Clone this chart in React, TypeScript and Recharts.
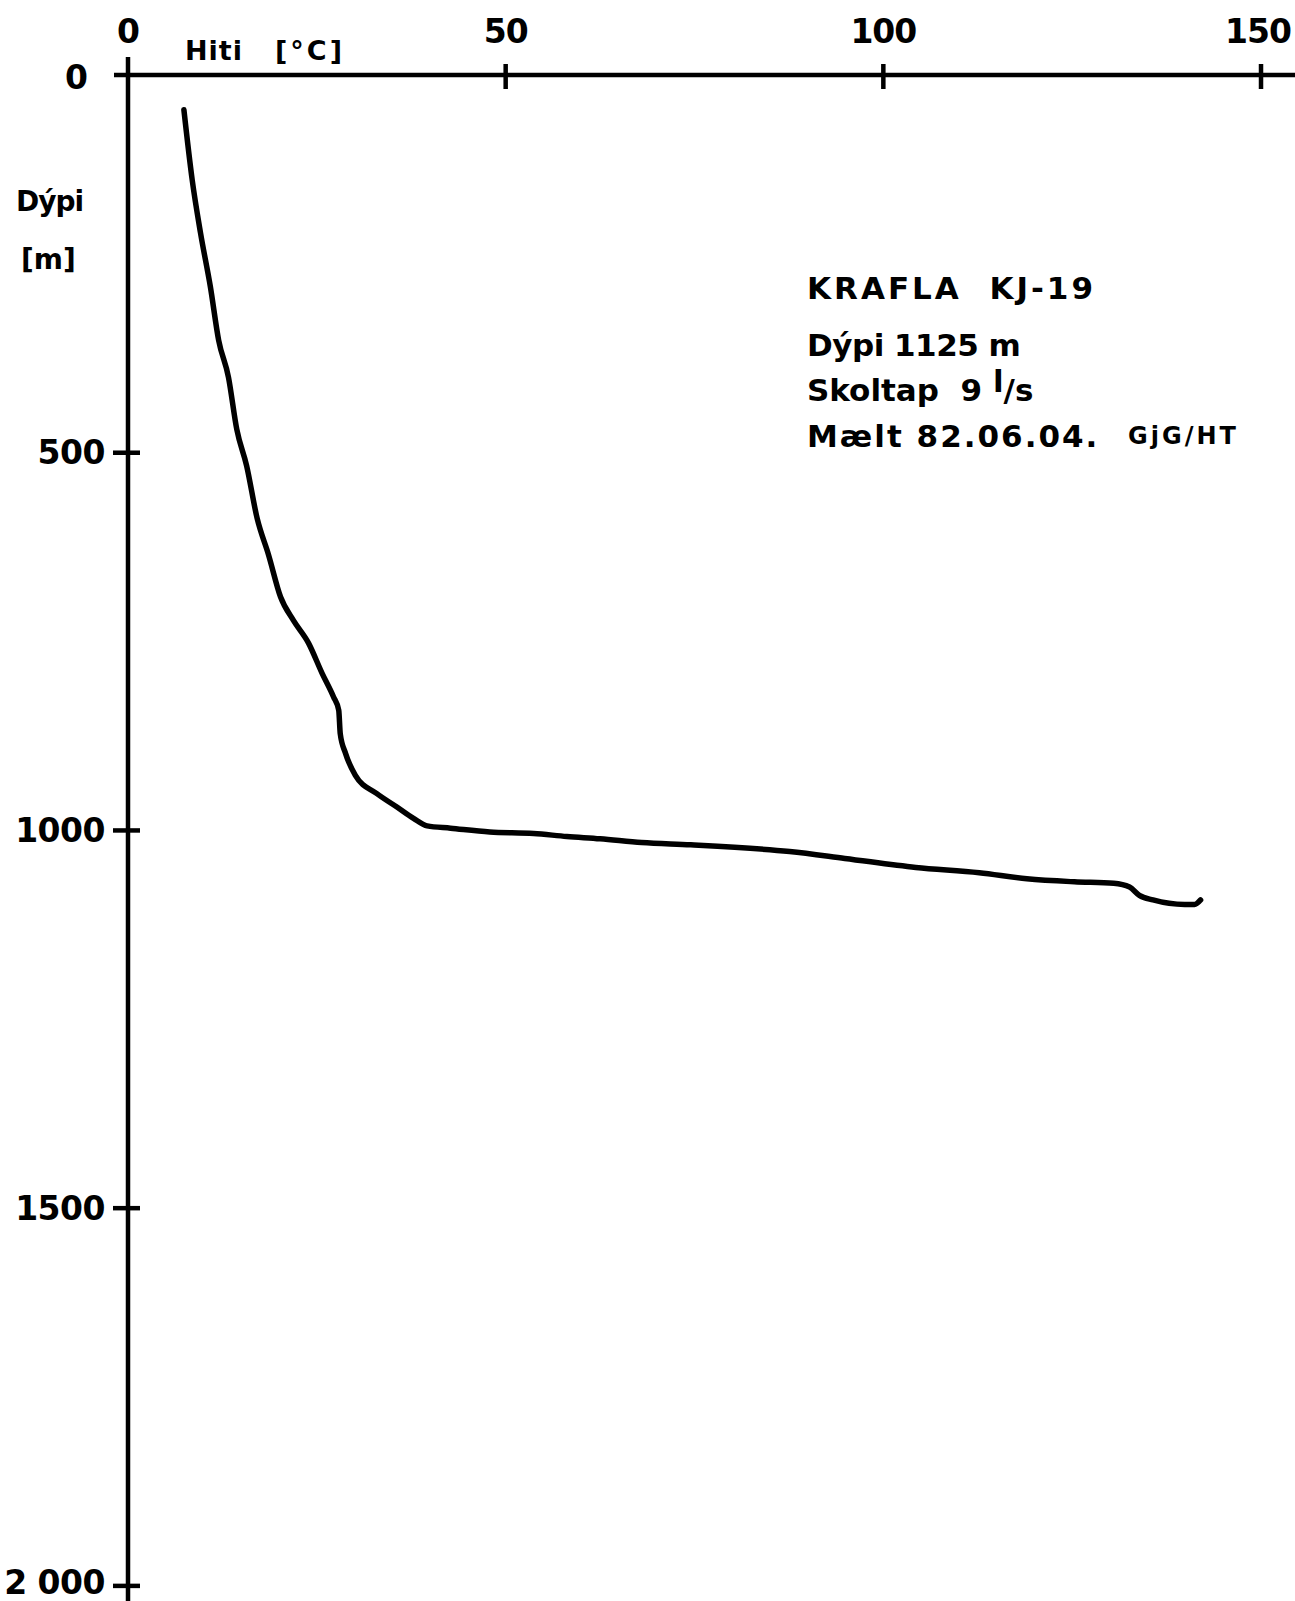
import React from 'react';
import { LineChart, Line, XAxis, YAxis } from 'recharts';

// temperature log, Krafla KJ-19
const temps = [
  7.4, 8.5, 9.6, 10.9, 12.0, 13.3, 14.4, 15.7, 17.1, 18.6, 20.2, 21.9, 23.9, 25.7,
  27.2, 27.9, 28.1, 28.8, 30.1, 32.9, 35.6, 37.8, 39.6, 42.7, 47.9, 53.7, 58.1,
  62.5, 68.0, 74.5, 87.6, 94.9, 104.3, 112.7, 119.0, 125.3, 130.5, 132.6, 133.9,
  135.7, 139.9, 141.2, 142.0,
];
const depths = [
  46, 139, 209, 280, 351, 400, 469, 517, 587, 635, 691, 722, 752, 792,
  823, 841, 872, 898, 927, 951, 969, 984, 994, 997, 1002, 1004, 1008,
  1011, 1016, 1019, 1028, 1037, 1049, 1056, 1064, 1068, 1070, 1075, 1086,
  1092, 1098, 1098, 1092,
];
const tempTicks = [0, 50, 100, 150];
const depthTicks = [0, 500, 1000, 1500, 2000];

const profile = temps.map((t, i) => ({ temp: t, depth: depths[i] }));

const FONT = '"DejaVu Sans", sans-serif';
const AXIS_W = 4.5;

function TempTick(props: any) {
  const { x, y, payload } = props;
  return (
    <g>
      {payload.value !== 0 && (
        <line x1={x} y1={y - 11} x2={x} y2={y + 14} stroke="#000" strokeWidth={AXIS_W} />
      )}
      <text x={payload.value === 150 ? x - 3 : x} y={y - 44} textAnchor="middle" dominantBaseline="central" fontSize={33} fontWeight="bold" fontFamily={FONT} fill="#000" letterSpacing={-1}>
        {payload.value}
      </text>
    </g>
  );
}

function DepthTick(props: any) {
  const { x, y, payload } = props;
  const v = payload.value;
  if (v === 0) {
    return (
      <g>
        <line x1={x - 14} y1={y} x2={x} y2={y} stroke="#000" strokeWidth={AXIS_W} />
        <line x1={x} y1={y - 18} x2={x} y2={y} stroke="#000" strokeWidth={AXIS_W} />
        <text x={x - 40} y={y + 2} textAnchor="end" dominantBaseline="central" fontSize={33} fontWeight="bold" fontFamily={FONT} fill="#000">
          0
        </text>
      </g>
    );
  }
  const label = v === 2000 ? '2 000' : String(v);
  return (
    <g>
      <line x1={x - 15} y1={y} x2={x + 12} y2={y} stroke="#000" strokeWidth={AXIS_W} />
      <text x={x - 23} y={v === 2000 ? y - 3 : y} textAnchor="end" dominantBaseline="central" fontSize={33} fontWeight="bold" fontFamily={FONT} fill="#000" letterSpacing={-0.5}>
        {label}
      </text>
    </g>
  );
}

export default function App() {
  const txt = { fontFamily: FONT, fill: '#000', fontWeight: 'bold' as const };
  return (
    <div style={{ position: 'relative', width: 1295, height: 1601, background: '#fff' }}>
      <style>{'body{margin:0;background:#fff}'}</style>
      <LineChart
        width={1295}
        height={1601}
        data={profile}
        margin={{ top: 35, right: 0, bottom: 0, left: 68 }}
      >
        <XAxis
          type="number"
          dataKey="temp"
          orientation="top"
          domain={[0, 154.5]}
          ticks={tempTicks}
          interval={0}
          allowDataOverflow
          height={40}
          tickSize={0}
          tickMargin={0}
          tickLine={false}
          axisLine={{ stroke: '#000', strokeWidth: AXIS_W }}
          tick={TempTick}
        />
        <YAxis
          type="number"
          reversed
          domain={[0, 2020]}
          ticks={depthTicks}
          interval={0}
          allowDataOverflow
          width={60}
          tickSize={0}
          tickMargin={0}
          tickLine={false}
          axisLine={{ stroke: '#000', strokeWidth: AXIS_W }}
          tick={DepthTick}
        />
        <Line
          type="monotoneX"
          dataKey="depth"
          stroke="#000"
          strokeWidth={5.5}
          strokeLinejoin="round"
          strokeLinecap="round"
          dot={false}
          isAnimationActive={false}
        />
      </LineChart>
      <svg
        width={1295}
        height={1601}
        style={{ position: 'absolute', left: 0, top: 0, pointerEvents: 'none' }}
      >
        <text x={185} y={50} dominantBaseline="central" fontSize={27} letterSpacing={1} {...txt}>
          Hiti
        </text>
        <text x={275} y={50} dominantBaseline="central" fontSize={27} letterSpacing={3} {...txt}>
          [°C]
        </text>
        <text x={16} y={201} dominantBaseline="central" fontSize={28} letterSpacing={-1} {...txt}>
          Dýpi
        </text>
        <text x={21} y={259} dominantBaseline="central" fontSize={28} {...txt}>
          [m]
        </text>
        <text x={807} y={288} dominantBaseline="central" fontSize={31} letterSpacing={3} {...txt}>
          KRAFLA{'\u00a0\u00a0'}KJ-19
        </text>
        <text x={807} y={345} dominantBaseline="central" fontSize={31} letterSpacing={-0.5} {...txt}>
          Dýpi 1125 m
        </text>
        <text x={807} y={390} dominantBaseline="central" fontSize={31} {...txt}>
          Skoltap{'\u00a0\u00a0'}9 <tspan dy={-9}>l</tspan>
          <tspan dy={9}>/s</tspan>
        </text>
        <text x={807} y={436} dominantBaseline="central" fontSize={31} letterSpacing={2} {...txt}>
          Mælt 82.06.04.
        </text>
        <text x={1128} y={436} dominantBaseline="central" fontSize={24} letterSpacing={3} {...txt}>
          GjG/HT
        </text>
      </svg>
    </div>
  );
}
